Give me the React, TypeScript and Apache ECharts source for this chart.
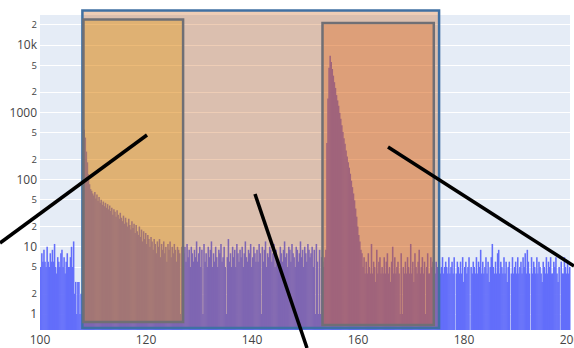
import React, { useEffect, useRef } from 'react';
import * as echarts from 'echarts';

// Histogram bins: start 100, width 0.2 (500 bins up to 200)
const BIN_START = 100;
const BIN_SIZE = 0.2;

const noiseLeft = [5,8,6,9,6,5,10,6,5,8, 6,9,6,11,5,4,7,6,5,8, 9,5,7,4,6,8,5,5,7,10, 5,12,2,3,1,3,3,1,2,1];
const decayLeft = [600,550,420,260,180,120,85,72,68,62,
  58,65,52,60,48,55,45,50,42,47,
  40,45,38,43,36,41,34,38,30,36,
  33,28,35,30,26,32,27,24,29,22,
  27,23,20,26,21,18,24,19,22,16,
  21,17,15,20,14,18,12,17,13,16,
  11,15,13,10,14,12,9,13,11,8,
  12,10,13,7,11,9,12,8,10,6,
  11,9,12,7,10,8,11,9,6,10,
  9,8,1,10,9];
const noiseMiddle = [8,10,6,11,7,9,5,10,8,6,
  9,7,12,6,8,10,5,9,1,11,
  6,8,5,10,7,9,12,5,8,6,
  10,7,5,9,8,11,6,7,10,5,
  1,7,13,6,8,5,10,7,9,5,
  11,8,6,9,7,10,5,8,12,7,
  6,9,8,11,5,7,10,8,6,9,
  6,11,8,1,10,6,9,12,5,8,
  7,10,9,6,8,11,5,9,7,6,
  5,10,8,6,9,12,7,8,5,10,
  9,6,11,8,7,5,10,9,6,8,
  12,7,9,5,10,8,6,11,9,7,
  8,10,5,9,1,11,6,1,9,1,
  7,6,5,7,9];
const peak = [350,1600,4600,6900,5600,4400,3500,2800,2300,1800,
  1500,1250,980,800,640,510,410,340,270,220,
  180,150,122,96,77,62,49,37,28,20,
  15,12,9,8];
const noiseRightRect = [5,7,4,6,4,8,5,4,11,4,
  6,5,3,9,4,6,7,4,5,4,
  7,4,6,8,4,5,3,6,10,4,
  7,4,5,6,4,1,8,1,5,4,
  6,4,7,5,4,11,4,6,3,8,
  5,4,6,9,4,5,7,4,6,1,
  5,8,4,4,7,5,6,3,4,6,
  5];
const noiseRight = [4,6,4,5,7,4,5,6,5,4,
  7,4,5,6,4,7,0,4,6,5,
  4,6,4,7,3,5,6,4,5,7,
  0,5,4,6,5,4,7,4,6,5,
  9,4,6,4,5,7,4,6,3,5,
  7,11,5,4,6,4,8,9,4,6,
  5,4,7,4,6,3,5,6,0,4,
  7,4,5,6,4,7,4,5,6,4,
  7,5,8,4,9,6,4,0,7,4,
  6,5,4,7,4,6,5,4,3,6,
  5,4,7,4,6,5,7,4,4,6,
  5,7,4,3,5,0,6,4,4,7,
  5,4,6,4,5];

const counts = [...noiseLeft, ...decayLeft, ...noiseMiddle, ...peak, ...noiseRightRect, ...noiseRight];

const xTicks = [100, 120, 140, 160, 180, 200];
const yTicks = [1, 2, 5, 10, 20, 50, 100, 200, 500, 1000, 2000, 5000, 10000, 20000];

// overlay rectangles (x in data units, y in counts)
const shapeX0 = [108.0, 108.2, 153.3];
const shapeX1 = [175.3, 127.0, 174.3];
const shapeYLow = [0.62, 0.76, 0.686];
const shapeYHigh = [32600, 23900, 21200];
const shapeFill = ['rgba(198,84,4,0.29)', 'rgba(232,150,0,0.34)', 'rgba(226,98,17,0.34)'];
const shapeStroke = ['#4070a3', '#6f6f75', '#6f6f75'];

const Y_MIN = -0.238;
const Y_MAX = 4.446;

export default function App() {
  const ref = useRef<HTMLDivElement>(null);
  useEffect(() => {
    const chart = echarts.init(ref.current!, null, { renderer: 'svg' });
    const barData = counts
      .map((c, i) => [BIN_START + i * BIN_SIZE, BIN_START + (i + 1) * BIN_SIZE, c])
      .filter((d) => d[2] > 0)
      .map((d) => [d[0], d[1], Math.log10(d[2])]);
    const shapeData = shapeX0.map((x0, i) => [x0, shapeX1[i], Math.log10(shapeYLow[i]), Math.log10(shapeYHigh[i]), i]);
    const tickVals = yTicks.map((v) => Math.log10(v));
    const labelColor = '#444';

    chart.setOption({
      animation: false,
      backgroundColor: '#fff',
      grid: {
        left: 40, right: 4, top: 15, bottom: 18, show: true, backgroundColor: '#e5ecf6', borderWidth: 0,
        outerBoundsMode: 'none', containLabel: false,
      },
      xAxis: {
        type: 'value', min: 100, max: 200, interval: 20,
        axisLine: { show: false }, axisTick: { show: false }, splitLine: { show: false },
        axisLabel: { fontFamily: 'Open Sans', fontSize: 12, color: labelColor, margin: 3, customValues: xTicks },
      },
      yAxis: {
        type: 'value', min: Y_MIN, max: Y_MAX,
        axisLine: { show: false },
        axisTick: { show: false, customValues: tickVals },
        splitLine: { show: true, lineStyle: { color: '#ffffff', width: 1 } },
        axisLabel: {
          customValues: tickVals,
          margin: 3,
          fontFamily: 'Open Sans',
          color: labelColor,
          formatter: (v: number) => {
            const n = Math.round(Math.pow(10, v));
            const e = Math.round(Math.log10(n));
            if (Math.pow(10, e) === n) {
              return '{a|' + (n >= 10000 ? n / 1000 + 'k' : String(n)) + '}';
            }
            return '{b|' + String(n)[0] + '}';
          },
          rich: {
            a: { fontSize: 12, fontFamily: 'Open Sans', color: labelColor },
            b: { fontSize: 9.5, fontFamily: 'Open Sans', color: labelColor },
          },
        },
      },
      series: [
        {
          type: 'custom',
          z: 2,
          data: barData,
          encode: { x: [0, 1], y: 2 },
          renderItem: (params: any, api: any) => {
            const p0 = api.coord([api.value(0), api.value(2)]);
            const p1 = api.coord([api.value(1), Y_MIN]);
            return {
              type: 'rect',
              shape: { x: p0[0], y: p0[1], width: p1[0] - p0[0] + 0.5, height: p1[1] - p0[1] },
              style: { fill: '#636efa' },
            };
          },
        },
        {
          type: 'custom',
          z: 3,
          clip: false,
          data: shapeData,
          encode: { x: [0, 1], y: [2, 3] },
          renderItem: (params: any, api: any) => {
            const i = api.value(4);
            const p0 = api.coord([api.value(0), api.value(3)]);
            const p1 = api.coord([api.value(1), api.value(2)]);
            return {
              type: 'rect',
              shape: { x: p0[0], y: p0[1], width: p1[0] - p0[0], height: p1[1] - p0[1] },
              style: { fill: shapeFill[i], stroke: shapeStroke[i], lineWidth: 2.5 },
            };
          },
        },
      ],
      graphic: [
        { type: 'line', z: 100, shape: { x1: 0, y1: 243, x2: 147, y2: 135 }, style: { stroke: '#000', lineWidth: 3.5 } },
        { type: 'line', z: 100, shape: { x1: 255, y1: 194, x2: 307, y2: 348 }, style: { stroke: '#000', lineWidth: 3.5 } },
        { type: 'line', z: 100, shape: { x1: 388, y1: 147, x2: 574, y2: 266 }, style: { stroke: '#000', lineWidth: 3.5 } },
      ],
    });
    return () => chart.dispose();
  }, []);
  return <div ref={ref} style={{ position: 'absolute', left: 0, top: 0, width: 574, height: 348 }} />;
}
